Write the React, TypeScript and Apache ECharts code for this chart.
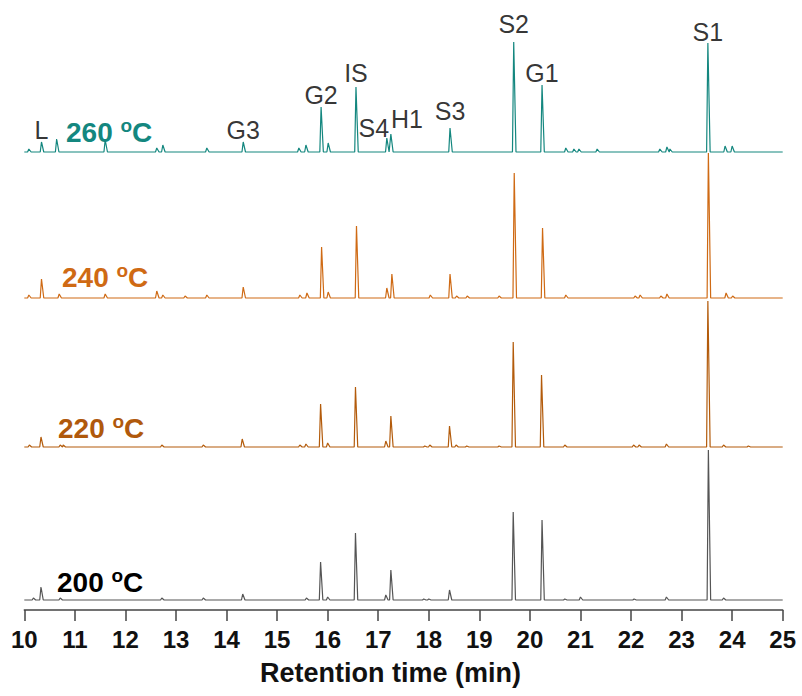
import React, { useEffect, useRef } from "react";
import * as echarts from "echarts";

// Retention-time window (min) and the tick labels along it
const X_MIN = 10;
const X_MAX = 25;
const xTickLabels = ["10", "11", "12", "13", "14", "15", "16", "17", "18", "19", "20", "21", "22", "23", "24", "25"];

// Detected peaks per pyrolysis temperature: [retention time (min), intensity (a.u.)]
const peaks260: [number, number][] = [
  [10.09, 3], [10.34, 10], [10.64, 13], [11.6, 12], [12.62, 4], [12.74, 7], [13.61, 4],
  [14.33, 10], [15.43, 4], [15.57, 7], [15.87, 45], [16.01, 9], [16.56, 65], [17.17, 14],
  [17.25, 18], [18.42, 24], [19.68, 110], [20.24, 67], [20.71, 4], [20.87, 3], [20.97, 3],
  [21.33, 3], [22.57, 3], [22.71, 5], [22.77, 3], [23.52, 109], [23.86, 6], [24.0, 6],
];
const peaks240: [number, number][] = [
  [10.09, 3], [10.34, 19], [10.69, 4], [11.6, 4], [12.62, 7], [12.74, 3], [13.18, 2],
  [13.61, 3], [14.33, 11], [15.45, 3], [15.59, 5], [15.88, 51], [16.01, 6], [16.57, 72],
  [17.17, 10], [17.27, 24], [18.03, 3], [18.42, 24], [18.55, 2], [18.76, 2], [19.39, 2],
  [19.69, 125], [20.25, 70], [20.71, 3], [22.08, 2], [22.18, 3], [22.59, 2], [22.71, 4],
  [23.53, 145], [23.88, 5], [24.01, 2],
];
const peaks220: [number, number][] = [
  [10.1, 2], [10.33, 10], [10.71, 2], [10.77, 2], [12.72, 2], [13.54, 2], [14.31, 8],
  [15.45, 2], [15.57, 3], [15.86, 43], [16.0, 4], [16.55, 60], [17.15, 6], [17.25, 31],
  [17.92, 1], [18.02, 2], [18.41, 21], [18.54, 2], [18.75, 1], [19.39, 1], [19.67, 105],
  [20.23, 72], [20.69, 2], [22.05, 2], [22.16, 2], [22.7, 3], [23.52, 146], [23.83, 2],
  [24.32, 1],
];
const peaks200: [number, number][] = [
  [10.18, 2], [10.33, 13], [10.71, 2], [12.72, 2], [13.54, 2], [14.32, 6], [15.58, 2],
  [15.86, 38], [16.0, 3], [16.55, 67], [17.15, 5], [17.25, 30], [17.9, 1], [18.0, 1],
  [18.41, 10], [19.67, 88], [20.24, 80], [20.69, 1], [21.0, 3], [22.06, 1], [22.7, 3],
  [23.53, 150], [23.83, 2],
];

// Compound names marked over the 260 °C trace and their retention times
const peakNames = ["L", "G3", "G2", "IS", "S4", "H1", "S3", "S2", "G1", "S1"];
const peakNameTimes = [10.34, 14.33, 15.87, 16.56, 17.17, 17.25, 18.42, 19.68, 20.24, 23.52];

// Temperature labels, top trace first
const tempValues = ["260", "240", "220", "200"];

const FONT = '"Liberation Sans", Arial, Helvetica, sans-serif';

const traceStyles = [
  { color: "#14877f", text: "#14877f" },
  { color: "#cf6a14", text: "#cf6a14" },
  { color: "#b35b0b", text: "#b0590c" },
  { color: "#555555", text: "#000000" },
];

// One grid per trace (1 y unit = 1 px), plus a thin grid that carries the time axis
const grids = [
  { top: 12, bottom: 544 },
  { top: 158, bottom: 398 },
  { top: 307, bottom: 249 },
  { top: 460, bottom: 96 },
  { top: 600, bottom: 86 },
];
const TRACE_GRIDS = 4;
const AXIS_GRID = 4;

// Per-name label nudges (px)
const nameOffsets: Record<string, [number, number]> = {
  L: [0, 2],
  G3: [0, 2],
  G2: [0, 2],
  IS: [0, 0],
  S4: [-13, 4],
  H1: [16, -1],
  S3: [0, -3],
  S2: [0, -4],
  G1: [0, 2],
  S1: [0, 3],
};

function buildTrace(peaks: [number, number][]): [number, number][] {
  const pts: [number, number][] = [[X_MIN, 0]];
  for (const [t, h] of peaks) {
    pts.push([t - 0.025, 0], [t, h], [t + 0.045, 0]);
  }
  pts.push([X_MAX, 0]);
  return pts;
}

export default function App() {
  const ref = useRef<HTMLDivElement>(null);

  useEffect(() => {
    if (!ref.current) return;
    const chart = echarts.init(ref.current, null, { renderer: "svg" });
    const allPeaks = [peaks260, peaks240, peaks220, peaks200];

    const xAxes = grids.map((_, i) => {
      const shown = i === AXIS_GRID;
      return {
        type: "value" as const,
        gridIndex: i,
        min: X_MIN,
        max: X_MAX,
        interval: 1,
        show: shown,
        axisLine: { show: shown, onZero: false, lineStyle: { color: "#444", width: 1.5 } },
        axisTick: { show: shown, length: 11, lineStyle: { color: "#444", width: 1.5 } },
        splitLine: { show: false },
        axisLabel: {
          show: shown,
          margin: 17,
          fontFamily: FONT,
          fontWeight: "bold" as const,
          fontSize: 24,
          color: "#111",
          formatter: (v: number) => xTickLabels[Math.round(v - X_MIN)] ?? "",
        },
        name: shown ? "Retention time (min)" : "",
        nameLocation: "middle" as const,
        nameGap: 49,
        nameTextStyle: {
          fontFamily: FONT,
          fontWeight: "bold" as const,
          fontSize: 27,
          color: "#111",
          padding: [0, 26, 0, 0],
        },
      };
    });

    const yAxes = grids.map((_, i) => ({
      type: "value" as const,
      gridIndex: i,
      min: 0,
      max: i < TRACE_GRIDS ? 140 : 1,
      show: false,
    }));

    const lineSeries = allPeaks.map((p, i) => ({
      type: "line" as const,
      xAxisIndex: i,
      yAxisIndex: i,
      data: buildTrace(p),
      symbol: "none",
      clip: false,
      silent: true,
      z: 2 + i,
      lineStyle: { color: traceStyles[i].color, width: 1.2 },
    }));

    const heightAt = (t: number) => {
      const hit = peaks260.find((p) => Math.abs(p[0] - t) < 1e-6);
      return hit ? hit[1] : 0;
    };

    const nameSeries = {
      type: "scatter" as const,
      xAxisIndex: 0,
      yAxisIndex: 0,
      symbolSize: 0,
      silent: true,
      clip: false,
      z: 10,
      data: peakNames.map((n, k) => ({
        name: n,
        value: [peakNameTimes[k], heightAt(peakNameTimes[k])],
        label: { offset: nameOffsets[n] },
      })),
      label: {
        show: true,
        position: "top" as const,
        distance: 2,
        formatter: "{b}",
        fontFamily: FONT,
        fontSize: 25,
        color: "#000",
      },
    };

    const tempPos = [
      [66, 116],
      [62, 261],
      [58, 412],
      [57, 566],
    ];

    const graphics = tempValues.map((v, i) => ({
      type: "text" as const,
      left: tempPos[i][0],
      top: tempPos[i][1],
      z: 20,
      style: {
        text: `{n|${v} }{s|o}{n|C}`,
        fill: traceStyles[i].text,
        rich: {
          n: {
            fontFamily: FONT,
            fontWeight: "bold",
            fontSize: 28,
            lineHeight: 30,
            verticalAlign: "bottom",
            fill: traceStyles[i].text,
          },
          s: {
            fontFamily: FONT,
            fontWeight: "bold",
            fontSize: 19,
            lineHeight: 8,
            verticalAlign: "top",
            fill: traceStyles[i].text,
          },
        },
      },
    }));

    chart.setOption({
      animation: false,
      backgroundColor: "#ffffff",
      grid: grids.map((g) => ({ left: 24.3, right: 19.3, top: g.top, bottom: g.bottom })),
      xAxis: xAxes,
      yAxis: yAxes,
      series: [...lineSeries, nameSeries],
      graphic: graphics,
    });

    return () => chart.dispose();
  }, []);

  return <div ref={ref} style={{ width: 802, height: 696, position: "absolute", left: 0, top: 0 }} />;
}
